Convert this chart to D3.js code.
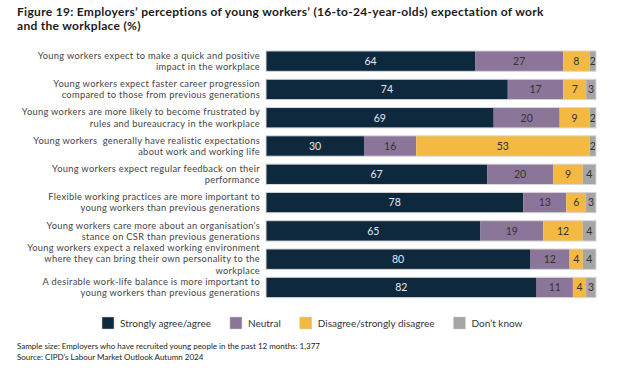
<!DOCTYPE html>
<html>
<head>
<meta charset="utf-8">
<script src="https://cdn.jsdelivr.net/npm/d3@7"></script>
<style>
  body { margin: 0; background: #fff; }
  svg { display: block; font-family: Lato, "Open Sans", sans-serif; }
</style>
</head>
<body>
<svg id="chart" width="640" height="368"></svg>
<script>
// ---- data ------------------------------------------------------------------
var categories = [
  ["Young workers expect to make a quick and positive", "impact in the workplace"],
  ["Young workers expect faster career progression", "compared to those from previous generations"],
  ["Young workers are more likely to become frustrated by", "rules and bureaucracy in the workplace"],
  ["Young workers  generally have realistic expectations", "about work and working life"],
  ["Young workers expect regular feedback on their", "performance"],
  ["Flexible working practices are more important to", "young workers than previous generations"],
  ["Young workers care more about an organisation\u2019s", "stance on CSR than previous generations"],
  ["Young workers expect a relaxed working environment", "where they can bring their own personality to the", "workplace"],
  ["A desirable work-life balance is more important to", "young workers than previous generations"]
];
var agree    = [64, 74, 69, 30, 67, 78, 65, 80, 82];
var neutral  = [27, 17, 20, 16, 20, 13, 19, 12, 11];
var disagree = [ 8,  7,  9, 53,  9,  6, 12,  4,  4];
var dontKnow = [ 2,  3,  2,  2,  4,  3,  4,  4,  3];

var seriesNames  = ["Strongly agree/agree", "Neutral", "Disagree/strongly disagree", "Don\u2019t know"];
var seriesColors = ["#0e293e", "#8b7699", "#f4b942", "#a5a5a5"];
var labelColors  = ["#e8e8e8", "#333333", "#333333", "#333333"];

var title = ["Figure 19: Employers\u2019 perceptions of young workers\u2019 (16-to-24-year-olds) expectation of work",
             "and the workplace (%)"];
var notes = ["Sample size: Employers who have recruited young people in the past 12 months: 1,377",
             "Source: CIPD\u2019s Labour Market Outlook Autumn 2024"];

// ---- build -----------------------------------------------------------------
var rows = categories.map(function(c, i) {
  return { i: i, lines: c, s0: agree[i], s1: neutral[i], s2: disagree[i], s3: dontKnow[i] };
});
var keys = ["s0", "s1", "s2", "s3"];

// every bar in the reference spans the same width, so shares are normalised per row
var stack = d3.stack().keys(keys).offset(d3.stackOffsetExpand);
var layers = stack(rows);

var svg = d3.select("#chart");

var x = d3.scaleLinear().domain([0, 1]).range([266, 596]);
var y = d3.scaleBand()
  .domain(rows.map(function(d) { return d.i; }))
  .range([47, 301.6])
  .paddingInner(0.28)
  .paddingOuter(0.14);

// title
svg.append("g").selectAll("text")
  .data(title)
  .join("text")
    .attr("x", 17)
    .attr("y", function(d, i) { return 15.5 + i * 14.6; })
    .attr("font-size", "12px")
    .attr("letter-spacing", "0.3px")
    .attr("font-weight", 700)
    .attr("fill", "#1b1b1b")
    .text(function(d) { return d; });

// category labels, one text per line
var lineGap = 11.2;
svg.append("g").selectAll("g")
  .data(rows)
  .join("g")
    .attr("transform", function(d) { return "translate(260," + (y(d.i) + y.bandwidth() / 2) + ")"; })
  .selectAll("text")
  .data(function(d) {
    var n = d.lines.length;
    return d.lines.map(function(l, k) { return { t: l, off: (k - (n - 1) / 2) * lineGap }; });
  })
  .join("text")
    .attr("text-anchor", "end")
    .attr("font-size", "9.3px")
    .attr("letter-spacing", "0.3px")
    .attr("fill", "#444")
    .style("white-space", "pre")
    .attr("y", function(d) { return d.off + 3.3; })
    .text(function(d) { return d.t; });

// bars
var layerG = svg.append("g").selectAll("g")
  .data(layers)
  .join("g")
    .attr("fill", function(d, i) { return seriesColors[i]; });

layerG.selectAll("rect")
  .data(function(d) { return d; })
  .join("rect")
    .attr("x", function(d) { return x(d[0]); })
    .attr("y", function(d) { return y(d.data.i); })
    .attr("width", function(d) { return x(d[1]) - x(d[0]); })
    .attr("height", y.bandwidth());

// light outline round each bar
svg.append("g").selectAll("rect")
  .data(rows)
  .join("rect")
    .attr("x", x(0))
    .attr("y", function(d) { return y(d.i); })
    .attr("width", x(1) - x(0))
    .attr("height", y.bandwidth())
    .attr("fill", "none")
    .attr("stroke", "#d8d8d8")
    .attr("stroke-width", 1);

// value labels
layerG.each(function(layer, li) {
  d3.select(this).selectAll("text")
    .data(layer)
    .join("text")
      .attr("x", function(d) { return (x(d[0]) + x(d[1])) / 2; })
      .attr("y", function(d) { return y(d.data.i) + y.bandwidth() / 2 + 3.8; })
      .attr("text-anchor", "middle")
      .attr("font-size", "10.5px")
      .attr("fill", labelColors[li])
      .text(function(d) { return d.data[layer.key]; });
});

// legend
var legend = svg.append("g").attr("transform", "translate(102, 317)");
var lx = 0;
seriesNames.forEach(function(name, i) {
  var g = legend.append("g").attr("transform", "translate(" + lx + ",0)");
  g.append("rect")
    .attr("width", 12)
    .attr("height", 12)
    .attr("fill", seriesColors[i])
    .attr("stroke", "#cfcfcf")
    .attr("stroke-width", 0.5);
  var t = g.append("text")
    .attr("x", 18)
    .attr("y", 9.5)
    .attr("font-size", "10px")
    .attr("fill", "#333")
    .text(name);
  lx += 18 + t.node().getComputedTextLength() + 19;
});

// notes
svg.append("g").selectAll("text")
  .data(notes)
  .join("text")
    .attr("x", 17)
    .attr("y", function(d, i) { return 349 + i * 11; })
    .attr("font-size", "8px")
    .attr("fill", "#222")
    .text(function(d) { return d; });
</script>
</body>
</html>
